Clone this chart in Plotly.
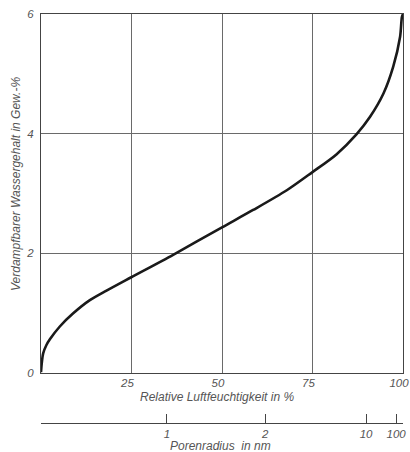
import plotly.graph_objects as go

# Data
rh = [0, 0.2, 0.6, 1.5, 2.5, 5.2, 8.9, 13.5, 18.1, 24.8, 36.5, 50, 58.6, 67.9,
      74.9, 81.6, 87.2, 90.9, 94.6, 97.3, 99.2, 99.7, 100]
water = [0, 0.15, 0.32, 0.46, 0.56, 0.77, 0.99, 1.21, 1.37, 1.59, 1.97, 2.43, 2.72,
         3.05, 3.35, 3.65, 3.99, 4.28, 4.67, 5.12, 5.62, 5.95, 6.0]

x_ticks = [25, 50, 75, 100]
x_tick_text = ["25", "50", "75", "100"]
y_ticks = [0, 2, 4, 6]
pore_tick_pos = [34.8, 61.9, 89.8, 98.1]   # positions on RH scale
pore_tick_text = ["1", "2", "10", "100"]
pore_end_pos = [0, 100]

W, H = 410, 452
ML, MR, MT, MB = 41, 7, 14, 29
plot_h = H - MT - MB
y_bottom_px = 372.5
dom0 = (H - MB - y_bottom_px) / plot_h

def px_x(px):
    return (px - ML) / (W - ML - MR)

def px_y(py):
    return (H - MB - py) / plot_h

FONT = "Liberation Sans, Arial, sans-serif"
TXT = "#555555"
GRID = "#6a6a6a"

fig = go.Figure()
fig.add_trace(go.Scatter(
    x=rh, y=water, mode="lines",
    line=dict(color="#1a1a1a", width=2.6, shape="spline", smoothing=0.8),
    cliponaxis=False, showlegend=False, hoverinfo="skip"))
# invisible trace to register secondary axis
fig.add_trace(go.Scatter(x=[0, 100], y=[0, 0], xaxis="x2", yaxis="y",
                         mode="lines", line=dict(width=0), showlegend=False,
                         hoverinfo="skip"))

tf = dict(family=FONT, size=11.5, color=TXT, style="italic")

fig.update_layout(
    width=W, height=H,
    margin=dict(l=ML, r=MR, t=MT, b=MB, autoexpand=False),
    paper_bgcolor="white", plot_bgcolor="white",
    font=dict(family=FONT, size=12, color=TXT, style="italic"),
    xaxis=dict(range=[0, 100], tickmode="array", tickvals=x_ticks,
               ticktext=x_tick_text, showgrid=True,
               gridcolor=GRID, gridwidth=1, showline=True, linecolor="#444",
               linewidth=1.2, mirror=True, ticks="", zeroline=False,
               tickfont=tf, ticklabeloverflow="allow", ticklabelshift=-4,
               anchor="y", automargin=False),
    yaxis=dict(range=[0, 6], domain=[dom0, 1], tickmode="array",
               tickvals=y_ticks, ticktext=[str(v) for v in y_ticks],
               showgrid=True, gridcolor=GRID, gridwidth=1, showline=True,
               linecolor="#444", linewidth=1.2, mirror=True, ticks="",
               zeroline=False, ticklabelstandoff=4, tickfont=tf,
               ticklabeloverflow="allow", automargin=False),
    xaxis2=dict(range=[0, 100], anchor="free", position=0, overlaying="x",
                side="bottom", showgrid=False, zeroline=False, showline=True,
                linecolor="#444", linewidth=1.2, ticks="inside", ticklen=9,
                tickwidth=1.2, tickcolor="#444", tickmode="array",
                tickvals=pore_tick_pos, ticktext=pore_tick_text,
                tickfont=tf, ticklabeloverflow="allow", automargin=False,
                minor=dict(tickmode="array", tickvals=pore_end_pos,
                           ticks="inside", ticklen=15, tickwidth=1.2,
                           tickcolor="#444", showgrid=False)),
    annotations=[
        dict(text="Relative Luftfeuchtigkeit in %", xref="paper", yref="paper",
             x=px_x(217), y=px_y(397), xanchor="center", yanchor="middle",
             showarrow=False,
             font=dict(family=FONT, size=12, color=TXT, style="italic")),
        dict(text="Porenradius  in nm", xref="paper", yref="paper",
             x=px_x(220), y=px_y(446), xanchor="center", yanchor="middle",
             showarrow=False,
             font=dict(family=FONT, size=12, color=TXT, style="italic")),
        dict(text="Verdampfbarer Wassergehalt in Gew.-%", xref="paper", yref="paper",
             x=px_x(16), y=px_y(184), xanchor="center", yanchor="middle",
             showarrow=False, textangle=-90,
             font=dict(family=FONT, size=12, color=TXT, style="italic")),
    ],
)

fig.write_html("out.html")
